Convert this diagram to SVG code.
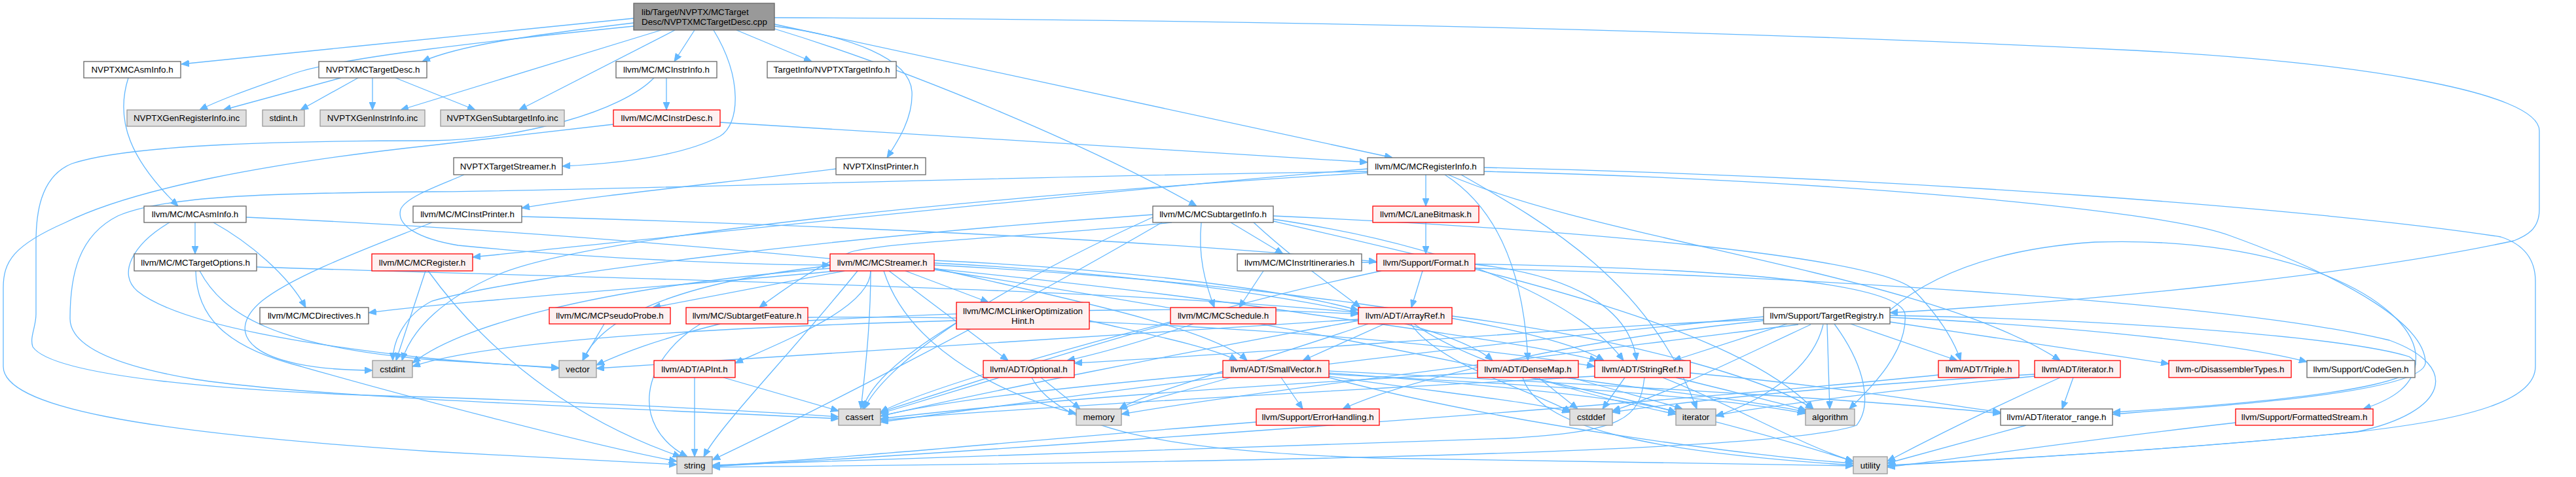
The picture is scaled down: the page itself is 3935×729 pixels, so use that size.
<svg xmlns="http://www.w3.org/2000/svg" width="3935" height="729" viewBox="0 0 3935 729">
<defs>
<style>
.e{fill:none;stroke:#63b8ff;stroke-width:1.3;marker-end:url(#ah)}
.node rect{stroke-width:1.3}
.w rect{fill:#ffffff;stroke:#666666}
.g rect{fill:#e0e0e0;stroke:#999999}
.r rect{fill:#fff0f0;stroke:#ff0000}
.m rect{fill:#999999;stroke:#666666}
text{font-family:"Liberation Sans",Arial,Helvetica,sans-serif;font-size:13.33px;fill:#000000}
.c{text-anchor:middle}
</style>
<marker id="ah" viewBox="0 0 12 10" refX="12" refY="5" markerWidth="12" markerHeight="10" markerUnits="userSpaceOnUse" orient="auto">
<path d="M0,0 L12,5 L0,10 z" fill="#63b8ff" stroke="#63b8ff" stroke-width="1"/>
</marker>
</defs>
<rect width="3935" height="729" fill="#ffffff"/>
<g id="edges">
<path class="e" d="M968,28 C800,45 500,75 277,98"/>
<path class="e" d="M968,35 C800,55 700,70 645,94"/>
<path class="e" d="M968,40 C750,62 520,88 450,112 C400,130 340,150 305,168"/>
<path class="e" d="M1010,46 L612,168"/>
<path class="e" d="M1031,46 L793,168"/>
<path class="e" d="M1061,46 L1030,94"/>
<path class="e" d="M1125,46 L1240,94"/>
<path class="e" d="M1090,46 C1135,120 1130,190 1100,208 C1040,240 940,250 859,254"/>
<path class="e" d="M1183,40 C1300,55 1390,90 1393,140 C1395,180 1372,215 1355,241"/>
<path class="e" d="M1183,44 C1400,110 1680,230 1828,315"/>
<path class="e" d="M1183,37 L2127,241"/>
<path class="e" d="M1183,27 C1900,30 2600,45 3260,77 C3600,95 3879,140 3879,200 L3879,320 C3879,350 3860,360 3840,368 C3600,420 3200,460 2887,478"/>
<path class="e" d="M521,119 L341,168"/>
<path class="e" d="M547,119 L459,168"/>
<path class="e" d="M569,119 L569,168"/>
<path class="e" d="M604,119 L726,168"/>
<path class="e" d="M196,119 C175,185 200,245 272,315"/>
<path class="e" d="M1018,119 L1018,168"/>
<path class="e" d="M999,119 C950,170 800,212 660,215 C450,215 200,220 110,250 C60,270 55,330 55,370 L55,480 C55,500 45,515 50,530 C80,575 350,600 660,607 C900,615 1150,628 1281,637"/>
<path class="e" d="M1100,187 C1400,205 1800,230 2089,248"/>
<path class="e" d="M937,190 C800,205 720,215 660,222 C400,250 200,290 100,340 C20,375 5,400 5,440 L5,560 C5,620 200,660 660,690 C850,700 980,708 1034,710"/>
<path class="e" d="M709,267 C680,280 620,300 612,320 C605,345 640,365 700,375 C900,395 1150,405 1268,405"/>
<path class="e" d="M1277,258 C1100,280 900,300 797,318"/>
<path class="e" d="M2178,267 L2178,315"/>
<path class="e" d="M2089,258 C1700,290 1000,365 722,393"/>
<path class="e" d="M2207,267 C2290,320 2328,420 2334,551"/>
<path class="e" d="M2212,267 C2450,370 2950,420 3147,551"/>
<path class="e" d="M2267,262 C2800,275 3300,320 3406,360 C3600,430 3705,500 3705,555 C3700,600 3400,620 3227,633"/>
<path class="e" d="M2267,256 C2900,270 3550,320 3820,362 C3860,375 3873,400 3873,430 L3873,560 C3873,610 3780,640 3600,660 C3300,690 3000,705 2883,711"/>
<path class="e" d="M2232,267 C2360,340 2520,430 2592,625"/>
<path class="e" d="M2089,262 C1500,270 900,292 660,293 C400,295 250,300 180,330 C120,360 107,420 107,487 C107,530 180,560 300,580 C500,610 1000,625 1281,640"/>
<path class="e" d="M2089,264 C1500,300 900,360 760,420 C680,455 630,500 614,551"/>
<path class="e" d="M298,340 L298,388"/>
<path class="e" d="M326,340 C380,370 440,420 467,470"/>
<path class="e" d="M259,340 C200,375 180,420 210,445 C260,485 400,520 660,548 C750,556 820,560 854,563"/>
<path class="e" d="M376,332 C900,355 1600,420 2000,480 C2250,515 2380,535 2440,551"/>
<path class="e" d="M797,331 C1300,345 1800,370 2103,400"/>
<path class="e" d="M660,340 C560,380 450,420 400,460 C340,510 380,565 569,566"/>
<path class="e" d="M1880,340 L1960,388"/>
<path class="e" d="M1835,340 C1830,390 1840,430 1855,470"/>
<path class="e" d="M1790,340 C1600,360 1350,370 1300,385 C1250,405 1200,440 1160,470"/>
<path class="e" d="M1915,340 C1980,400 2040,440 2078,470"/>
<path class="e" d="M1945,335 C2250,380 2420,470 2480,551"/>
<path class="e" d="M1945,330 C2400,350 2850,390 2920,440 C2960,480 2985,520 2995,551"/>
<path class="e" d="M1945,338 C2300,420 2650,500 2770,625"/>
<path class="e" d="M1761,332 C1500,450 1350,560 1320,625"/>
<path class="e" d="M1761,328 C1300,360 800,420 660,460 C620,480 600,520 600,551"/>
<path class="e" d="M1775,340 C1500,500 1200,650 1088,703"/>
<path class="e" d="M2178,340 L2178,388"/>
<path class="e" d="M392,408 C900,425 1700,440 2075,478"/>
<path class="e" d="M299,414 C300,480 340,530 460,560 C600,600 900,680 1034,705"/>
<path class="e" d="M305,414 C340,480 420,530 660,550 C760,556 820,560 854,562"/>
<path class="e" d="M650,414 L605,551"/>
<path class="e" d="M654,414 C760,560 900,650 1040,698"/>
<path class="e" d="M1280,414 C1000,440 700,460 563,478"/>
<path class="e" d="M1383,414 L1510,462"/>
<path class="e" d="M1290,414 C1150,440 1050,460 997,470"/>
<path class="e" d="M1330,414 C1330,470 1200,520 1123,555"/>
<path class="e" d="M1358,414 L1540,551"/>
<path class="e" d="M1427,410 C1600,450 1850,500 1905,551"/>
<path class="e" d="M1427,398 C1700,410 1950,440 2075,474"/>
<path class="e" d="M1427,402 C1800,420 2200,480 2280,551"/>
<path class="e" d="M1427,405 C1900,430 2350,490 2450,551"/>
<path class="e" d="M1330,414 C1330,500 1320,580 1315,625"/>
<path class="e" d="M1268,410 C900,440 700,500 630,555"/>
<path class="e" d="M1350,414 C1390,540 1550,610 1644,632"/>
<path class="e" d="M1310,414 C1200,550 1100,650 1075,698"/>
<path class="e" d="M1427,412 C2000,500 2500,600 2831,705"/>
<path class="e" d="M1268,406 C1050,430 920,480 890,551"/>
<path class="e" d="M1930,414 L1893,470"/>
<path class="e" d="M2080,401 C2500,405 2900,420 2910,480 C2915,540 2850,600 2825,625"/>
<path class="e" d="M2173,414 L2156,470"/>
<path class="e" d="M2253,404 C2400,420 2490,470 2500,551"/>
<path class="e" d="M2110,414 C1800,480 1500,580 1345,630"/>
<path class="e" d="M2253,410 C2700,420 3400,460 3650,520 C3760,560 3740,630 3600,660 C3300,690 3000,705 2883,712"/>
<path class="e" d="M923,495 L890,551"/>
<path class="e" d="M1100,495 C1000,520 950,540 911,558"/>
<path class="e" d="M1070,495 C980,550 960,650 1050,698"/>
<path class="e" d="M1234,490 C1600,470 1900,470 2075,480"/>
<path class="e" d="M1234,485 C1700,480 2200,520 2436,560"/>
<path class="e" d="M1664,490 C1750,510 1850,530 1890,551"/>
<path class="e" d="M1461,493 C1400,530 1330,580 1318,625"/>
<path class="e" d="M1461,490 C1100,500 750,520 630,560"/>
<path class="e" d="M1823,495 C1750,520 1680,540 1630,551"/>
<path class="e" d="M1788,492 C1600,540 1400,600 1345,630"/>
<path class="e" d="M2115,495 L1990,551"/>
<path class="e" d="M2218,483 C2500,520 2700,580 2770,625"/>
<path class="e" d="M2075,490 C1800,540 1500,600 1345,636"/>
<path class="e" d="M2155,495 C2200,560 2350,600 2400,630"/>
<path class="e" d="M2160,495 C2250,560 2450,610 2560,633"/>
<path class="e" d="M2090,495 C1900,560 1750,600 1710,625"/>
<path class="e" d="M2075,488 C1600,520 1200,545 911,563"/>
<path class="e" d="M1957,577 L1990,625"/>
<path class="e" d="M2030,567 C2500,590 2900,615 3056,632"/>
<path class="e" d="M2030,572 C2400,590 2650,610 2758,632"/>
<path class="e" d="M1868,570 C1650,590 1450,610 1345,636"/>
<path class="e" d="M2030,575 C2200,600 2350,615 2398,630"/>
<path class="e" d="M2030,570 C2300,590 2500,610 2560,630"/>
<path class="e" d="M1880,577 C1800,600 1740,615 1710,625"/>
<path class="e" d="M2030,577 C2300,650 2700,700 2831,708"/>
<path class="e" d="M2390,577 C2550,600 2700,615 2758,630"/>
<path class="e" d="M2257,570 C1900,590 1550,615 1345,640"/>
<path class="e" d="M2350,577 L2410,625"/>
<path class="e" d="M2400,577 C2480,600 2540,615 2570,625"/>
<path class="e" d="M2326,577 C2350,650 2500,690 2831,711"/>
<path class="e" d="M2582,570 C2800,590 2950,615 3056,630"/>
<path class="e" d="M2560,577 C2650,600 2720,615 2760,628"/>
<path class="e" d="M2436,575 C2000,600 1600,620 1345,642"/>
<path class="e" d="M2482,577 L2448,625"/>
<path class="e" d="M2512,577 C2505,640 2480,660 2300,670 C1800,690 1300,705 1088,711"/>
<path class="e" d="M2540,577 C2650,620 2750,680 2831,705"/>
<path class="e" d="M2961,573 C2500,620 1500,690 1088,713"/>
<path class="e" d="M3167,577 L3150,625"/>
<path class="e" d="M3108,572 C2800,590 2600,610 2463,630"/>
<path class="e" d="M3108,575 C2900,595 2700,620 2621,635"/>
<path class="e" d="M3147,577 C3050,620 2950,670 2883,705"/>
<path class="e" d="M2887,492 L3313,556"/>
<path class="e" d="M2887,485 C3100,495 3400,520 3524,553"/>
<path class="e" d="M2887,474 C2950,420 3050,380 3200,370 C3500,360 3680,460 3690,540 C3695,590 3650,612 3610,625"/>
<path class="e" d="M2887,482 C3300,490 3600,520 3680,545 C3720,570 3650,605 3227,630"/>
<path class="e" d="M2694,488 C2400,500 2000,535 1641,555"/>
<path class="e" d="M2730,495 L2556,551"/>
<path class="e" d="M2827,495 L2990,551"/>
<path class="e" d="M2694,490 C2400,520 2150,580 2051,625"/>
<path class="e" d="M2791,495 L2795,625"/>
<path class="e" d="M2694,484 C2200,530 1600,610 1345,645"/>
<path class="e" d="M2766,496 C2650,550 2550,600 2463,628"/>
<path class="e" d="M2785,496 C2770,560 2700,610 2621,636"/>
<path class="e" d="M2747,496 C2400,540 1900,600 1713,633"/>
<path class="e" d="M2802,495 C2850,560 2860,620 2836,650 C2700,700 1500,710 1088,714"/>
<path class="e" d="M1061,577 L1061,698"/>
<path class="e" d="M1105,577 L1281,628"/>
<path class="e" d="M1527,577 L1345,632"/>
<path class="e" d="M1590,577 L1650,625"/>
<path class="e" d="M1576,577 C1620,660 1800,690 2100,700 C2500,705 2750,710 2831,712"/>
<path class="e" d="M1919,645 C1600,670 1300,700 1088,712"/>
<path class="e" d="M3095,650 L2883,708"/>
<path class="e" d="M3415,646 C3200,670 3000,700 2883,714"/>
</g>
<g id="main" class="node m"><rect x="968" y="5" width="215" height="41"/><text x="980" y="22.8">lib/Target/NVPTX/MCTarget</text><text x="980" y="37.8">Desc/NVPTXMCTargetDesc.cpp</text></g>
<g id="NVPTXMCAsmInfo" class="node w"><rect x="128" y="94" width="148" height="25"/><text class="c" x="202" y="111.3">NVPTXMCAsmInfo.h</text></g>
<g id="NVPTXMCTargetDesc" class="node w"><rect x="487" y="94" width="165" height="25"/><text class="c" x="569.5" y="111.3">NVPTXMCTargetDesc.h</text></g>
<g id="MCInstrInfo" class="node w"><rect x="941" y="94" width="154" height="25"/><text class="c" x="1018" y="111.3">llvm/MC/MCInstrInfo.h</text></g>
<g id="NVPTXTargetInfo" class="node w"><rect x="1172" y="94" width="197" height="25"/><text class="c" x="1270.5" y="111.3">TargetInfo/NVPTXTargetInfo.h</text></g>
<g id="NVPTXGenRegisterInfo" class="node g"><rect x="194" y="168" width="182" height="25"/><text class="c" x="285" y="185.3">NVPTXGenRegisterInfo.inc</text></g>
<g id="stdint" class="node g"><rect x="401" y="168" width="64" height="25"/><text class="c" x="433" y="185.3">stdint.h</text></g>
<g id="NVPTXGenInstrInfo" class="node g"><rect x="489" y="168" width="160" height="25"/><text class="c" x="569" y="185.3">NVPTXGenInstrInfo.inc</text></g>
<g id="NVPTXGenSubtargetInfo" class="node g"><rect x="673" y="168" width="189" height="25"/><text class="c" x="767.5" y="185.3">NVPTXGenSubtargetInfo.inc</text></g>
<g id="MCInstrDesc" class="node r"><rect x="937" y="168" width="163" height="25"/><text class="c" x="1018.5" y="185.3">llvm/MC/MCInstrDesc.h</text></g>
<g id="NVPTXTargetStreamer" class="node w"><rect x="693" y="241" width="166" height="26"/><text class="c" x="776" y="258.8">NVPTXTargetStreamer.h</text></g>
<g id="NVPTXInstPrinter" class="node w"><rect x="1277" y="241" width="137" height="26"/><text class="c" x="1345.5" y="258.8">NVPTXInstPrinter.h</text></g>
<g id="MCRegisterInfo" class="node w"><rect x="2089" y="241" width="178" height="26"/><text class="c" x="2178" y="258.8">llvm/MC/MCRegisterInfo.h</text></g>
<g id="MCAsmInfo" class="node w"><rect x="220" y="315" width="156" height="25"/><text class="c" x="298" y="332.3">llvm/MC/MCAsmInfo.h</text></g>
<g id="MCInstPrinter" class="node w"><rect x="631" y="315" width="166" height="25"/><text class="c" x="714" y="332.3">llvm/MC/MCInstPrinter.h</text></g>
<g id="MCSubtargetInfo" class="node w"><rect x="1761" y="315" width="184" height="25"/><text class="c" x="1853" y="332.3">llvm/MC/MCSubtargetInfo.h</text></g>
<g id="LaneBitmask" class="node r"><rect x="2097" y="315" width="162" height="25"/><text class="c" x="2178" y="332.3">llvm/MC/LaneBitmask.h</text></g>
<g id="MCTargetOptions" class="node w"><rect x="205" y="388" width="187" height="26"/><text class="c" x="298.5" y="405.8">llvm/MC/MCTargetOptions.h</text></g>
<g id="MCRegister" class="node r"><rect x="568" y="388" width="154" height="26"/><text class="c" x="645" y="405.8">llvm/MC/MCRegister.h</text></g>
<g id="MCStreamer" class="node r"><rect x="1268" y="388" width="159" height="26"/><text class="c" x="1347.5" y="405.8">llvm/MC/MCStreamer.h</text></g>
<g id="MCInstrItineraries" class="node w"><rect x="1890" y="388" width="190" height="26"/><text class="c" x="1985" y="405.8">llvm/MC/MCInstrItineraries.h</text></g>
<g id="Format" class="node r"><rect x="2103" y="388" width="150" height="26"/><text class="c" x="2178" y="405.8">llvm/Support/Format.h</text></g>
<g id="MCDirectives" class="node w"><rect x="397" y="470" width="166" height="25"/><text class="c" x="480" y="487.3">llvm/MC/MCDirectives.h</text></g>
<g id="MCPseudoProbe" class="node r"><rect x="839" y="470" width="185" height="25"/><text class="c" x="931.5" y="487.3">llvm/MC/MCPseudoProbe.h</text></g>
<g id="SubtargetFeature" class="node r"><rect x="1048" y="470" width="186" height="25"/><text class="c" x="1141" y="487.3">llvm/MC/SubtargetFeature.h</text></g>
<g id="MCLinkerOptimizationHint" class="node r"><rect x="1461" y="462" width="203" height="41"/><text class="c" x="1562.5" y="479.8">llvm/MC/MCLinkerOptimization</text><text class="c" x="1562.5" y="494.8">Hint.h</text></g>
<g id="MCSchedule" class="node r"><rect x="1788" y="470" width="161" height="25"/><text class="c" x="1868.5" y="487.3">llvm/MC/MCSchedule.h</text></g>
<g id="ArrayRef" class="node r"><rect x="2075" y="470" width="143" height="25"/><text class="c" x="2146.5" y="487.3">llvm/ADT/ArrayRef.h</text></g>
<g id="TargetRegistry" class="node w"><rect x="2694" y="470" width="193" height="25"/><text class="c" x="2790.5" y="487.3">llvm/Support/TargetRegistry.h</text></g>
<g id="cstdint" class="node g"><rect x="569" y="551" width="61" height="26"/><text class="c" x="599.5" y="568.8">cstdint</text></g>
<g id="vector" class="node g"><rect x="854" y="551" width="57" height="26"/><text class="c" x="882.5" y="568.8">vector</text></g>
<g id="APInt" class="node r"><rect x="999" y="551" width="124" height="26"/><text class="c" x="1061" y="568.8">llvm/ADT/APInt.h</text></g>
<g id="Optional" class="node r"><rect x="1502" y="551" width="139" height="26"/><text class="c" x="1571.5" y="568.8">llvm/ADT/Optional.h</text></g>
<g id="SmallVector" class="node r"><rect x="1868" y="551" width="162" height="26"/><text class="c" x="1949" y="568.8">llvm/ADT/SmallVector.h</text></g>
<g id="DenseMap" class="node r"><rect x="2257" y="551" width="154" height="26"/><text class="c" x="2334" y="568.8">llvm/ADT/DenseMap.h</text></g>
<g id="StringRef" class="node r"><rect x="2436" y="551" width="146" height="26"/><text class="c" x="2509" y="568.8">llvm/ADT/StringRef.h</text></g>
<g id="Triple" class="node r"><rect x="2961" y="551" width="123" height="26"/><text class="c" x="3022.5" y="568.8">llvm/ADT/Triple.h</text></g>
<g id="iterator_h" class="node r"><rect x="3108" y="551" width="131" height="26"/><text class="c" x="3173.5" y="568.8">llvm/ADT/iterator.h</text></g>
<g id="DisassemblerTypes" class="node r"><rect x="3313" y="551" width="187" height="26"/><text class="c" x="3406.5" y="568.8">llvm-c/DisassemblerTypes.h</text></g>
<g id="CodeGen" class="node w"><rect x="3524" y="551" width="165" height="26"/><text class="c" x="3606.5" y="568.8">llvm/Support/CodeGen.h</text></g>
<g id="cassert" class="node g"><rect x="1281" y="625" width="64" height="25"/><text class="c" x="1313" y="642.3">cassert</text></g>
<g id="memory" class="node g"><rect x="1644" y="625" width="69" height="25"/><text class="c" x="1678.5" y="642.3">memory</text></g>
<g id="ErrorHandling" class="node r"><rect x="1919" y="625" width="188" height="25"/><text class="c" x="2013" y="642.3">llvm/Support/ErrorHandling.h</text></g>
<g id="cstddef" class="node g"><rect x="2398" y="625" width="65" height="25"/><text class="c" x="2430.5" y="642.3">cstddef</text></g>
<g id="iterator" class="node g"><rect x="2560" y="625" width="61" height="25"/><text class="c" x="2590.5" y="642.3">iterator</text></g>
<g id="algorithm" class="node g"><rect x="2758" y="625" width="75" height="25"/><text class="c" x="2795.5" y="642.3">algorithm</text></g>
<g id="iterator_range" class="node w"><rect x="3056" y="625" width="171" height="25"/><text class="c" x="3141.5" y="642.3">llvm/ADT/iterator_range.h</text></g>
<g id="FormattedStream" class="node r"><rect x="3415" y="625" width="210" height="25"/><text class="c" x="3520" y="642.3">llvm/Support/FormattedStream.h</text></g>
<g id="string" class="node g"><rect x="1034" y="698" width="54" height="26"/><text class="c" x="1061" y="715.8">string</text></g>
<g id="utility" class="node g"><rect x="2831" y="698" width="52" height="26"/><text class="c" x="2857" y="715.8">utility</text></g>
</svg>
